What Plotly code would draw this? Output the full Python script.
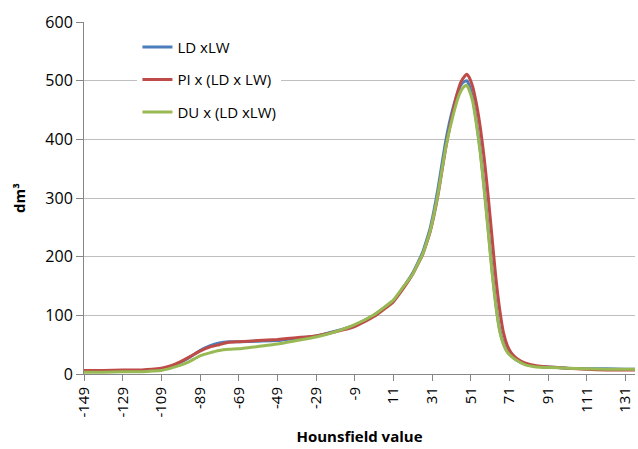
import plotly.graph_objects as go

hu = [-149, -139, -129, -119, -114, -109, -104, -99, -94, -89, -84, -79, -74, -69,
      -59, -49, -39, -29, -19, -9, 1, 6, 11, 16, 21, 24, 26, 28, 30, 32, 34, 36, 38,
      40, 42, 44, 46, 48, 49, 50, 52, 54, 56, 58, 60, 62, 64, 66, 68, 70, 72, 75, 79,
      85, 91, 101, 111, 121, 131, 136]

ld_lw = [5, 5, 6, 6, 7, 9, 13, 20, 29, 40, 48, 53, 55, 55,
         56, 57, 61, 65, 73, 83, 100, 112, 125, 147, 172, 192, 206, 226, 248, 278, 314, 355, 395,
         428, 455, 477, 493, 499, 500, 494, 470, 430, 380, 318, 250, 180, 120, 76, 52, 38, 31, 23, 17,
         13, 12, 10, 9, 9, 8, 8]

pi_ld_lw = [6, 6, 7, 7, 8, 10, 14, 21, 30, 39, 46, 50, 54, 55,
            57, 59, 62, 65, 72, 81, 98, 110, 123, 145, 170, 189, 202, 221, 242, 270, 303, 343, 383,
            418, 450, 478, 498, 508, 511, 507, 490, 460, 420, 368, 305, 235, 165, 110, 70, 48, 36, 26, 19,
            14, 12, 10, 8, 7, 7, 7]

du_ld_lw = [3, 3, 4, 4, 5, 6, 10, 15, 22, 31, 36, 40, 42, 43,
            47, 51, 57, 63, 72, 84, 101, 113, 126, 148, 170, 190, 203, 222, 243, 272, 305, 345, 384,
            415, 442, 466, 483, 491, 492, 486, 465, 425, 376, 313, 245, 175, 116, 73, 50, 37, 30, 23, 16,
            12, 11, 10, 9, 8, 8, 8]

series_names = ["LD xLW", "PI x (LD x LW)", "DU x (LD xLW)"]
series_colors = ["#4A7EBB", "#BE4B48", "#98B954"]

x_ticks = list(range(-149, 132, 20))
y_ticks = list(range(0, 601, 100))

font_family = "Open Sans, Liberation Sans, sans-serif"

fig = go.Figure()
for name, vals, col in zip(series_names, [ld_lw, pi_ld_lw, du_ld_lw], series_colors):
    fig.add_trace(go.Scatter(
        x=hu, y=vals, mode="lines", name=name,
        line=dict(color=col, width=3, shape="spline", smoothing=0.5),
        legendgroup=name,
    ))

fig.update_layout(
    width=638, height=449,
    margin=dict(l=84, r=3, t=22, b=75),
    paper_bgcolor="white", plot_bgcolor="white",
    font=dict(family=font_family, size=15, color="#000000"),
    showlegend=True,
    legend=dict(
        x=0.097, y=0.975, xanchor="left", yanchor="top",
        bgcolor="white", borderwidth=0,
        font=dict(size=15, color="#000000"),
        tracegroupgap=10,
        itemwidth=30,
    ),
    xaxis=dict(
        range=[-149, 136], tickmode="array", tickvals=x_ticks,
        ticktext=[str(v) for v in x_ticks], tickangle=-90,
        showgrid=False, zeroline=False,
        showline=True, linecolor="#868686", linewidth=1,
        ticks="outside", ticklen=6, tickcolor="#868686",
        tickfont=dict(size=15),
        title=dict(text="<b>Hounsfield value</b>", font=dict(size=15), standoff=14),
    ),
    yaxis=dict(
        range=[0, 600], tickmode="array", tickvals=y_ticks,
        showgrid=True, gridcolor="#BFBFBF", gridwidth=1,
        zeroline=False,
        showline=True, linecolor="#868686", linewidth=1,
        ticks="outside", ticklen=7, tickcolor="#868686",
        tickfont=dict(size=16),
        title=dict(text="<b>dm³</b>", font=dict(size=15), standoff=16),
    ),
)

fig.write_html("out.html")
